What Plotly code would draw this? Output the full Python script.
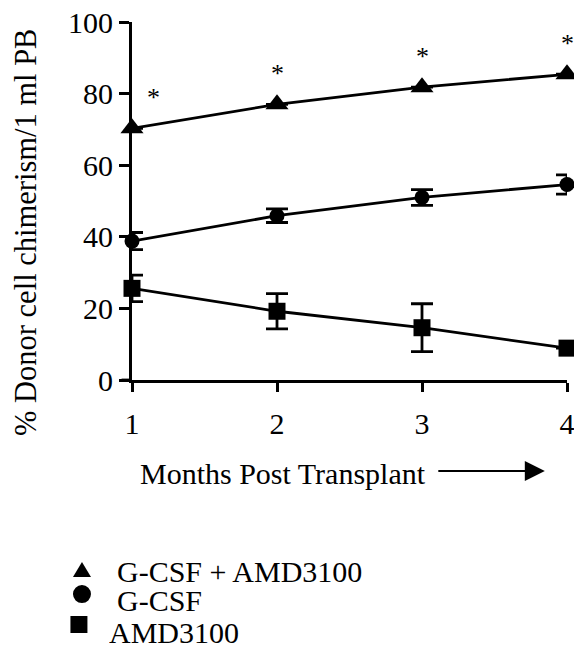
import plotly.graph_objects as go

# Months after transplant
months = [1, 2, 3, 4]

# Mean % donor chimerism in peripheral blood and SEM per group
combo_mean = [70.3, 77.0, 81.8, 85.4]
combo_err = [0.0, 0.0, 0.0, 0.0]

gcsf_mean = [38.8, 45.9, 51.0, 54.6]
gcsf_err = [2.4, 1.9, 2.2, 2.7]

amd_mean = [25.6, 19.2, 14.6, 8.9]
amd_err = [3.7, 4.9, 6.7, 0.0]

# Time points with a significant difference (asterisks)
significant = [True, True, True, True]

group_names = ["G-CSF + AMD3100", "G-CSF", "AMD3100"]

FONT = "'Liberation Serif', 'Times New Roman', 'DejaVu Serif', serif"
BLACK = "#000000"

fig = go.Figure()

series = [
    (group_names[0], combo_mean, combo_err, "triangle-up", 20),
    (group_names[1], gcsf_mean, gcsf_err, "circle", 15),
    (group_names[2], amd_mean, amd_err, "square", 17),
]

for name, mean, err, symbol, size in series:
    fig.add_trace(go.Scatter(
        x=months, y=mean,
        mode="lines+markers",
        line=dict(color=BLACK, width=2.8),
        marker=dict(symbol=symbol, size=size, color=BLACK),
        error_y=dict(type="data", array=err, visible=True,
                     color=BLACK, thickness=2.8, width=11),
        cliponaxis=False,
        showlegend=False,
        name=name,
    ))

# Significance asterisks above the combination curve
for i, (m, v, s) in enumerate(zip(months, combo_mean, significant)):
    if not s:
        continue
    xs = m + (0.15 if i == 0 else 0.0)
    fig.add_annotation(x=xs, y=v + 10.2, xref="x", yref="y", text="*",
                       showarrow=False, font=dict(family=FONT, size=26, color=BLACK),
                       yanchor="middle", yshift=-6)

# Short extension of the x axis line to the left of the y axis
fig.add_shape(type="line", xref="paper", yref="y", x0=-0.024, x1=0, y0=0, y1=0,
              line=dict(color=BLACK, width=2.8))

# Axis title with arrow
fig.add_annotation(x=0.348, y=-0.26, xref="paper", yref="paper",
                   text="Months Post Transplant", showarrow=False,
                   font=dict(family=FONT, size=30, color=BLACK),
                   xanchor="center", yanchor="middle")
fig.add_annotation(x=0.949, y=-0.254, ax=-108, ay=0,
                   xref="paper", yref="paper", axref="pixel", ayref="pixel",
                   text="", showarrow=True, arrowhead=2, arrowsize=2.0,
                   arrowwidth=2, arrowcolor=BLACK)

# Vertical axis title
fig.add_annotation(x=-0.244, y=0.413, xref="paper", yref="paper",
                   text="% Donor cell chimerism/1 ml PB", showarrow=False,
                   textangle=-90, font=dict(family=FONT, size=30.5, color=BLACK),
                   xanchor="center", yanchor="middle")

# Key below the chart: symbol shapes with labels
key_rows = [
    # (symbol x, symbol y, label x, label y) in paper units
    (-0.115, -0.531, -0.039, -0.534),
    (-0.115, -0.598, -0.039, -0.615),
    (-0.122, -0.683, -0.0575, -0.704),
]
tri, circ, sq = key_rows
fig.add_shape(type="path", xref="paper", yref="paper",
              xsizemode="pixel", ysizemode="pixel",
              xanchor=tri[0], yanchor=tri[1],
              path="M -9,-7 L 9,-7 L 0,8 Z",
              fillcolor=BLACK, line=dict(width=0))
fig.add_shape(type="circle", xref="paper", yref="paper",
              xsizemode="pixel", ysizemode="pixel",
              xanchor=circ[0], yanchor=circ[1],
              x0=-9, x1=9, y0=-9, y1=9,
              fillcolor=BLACK, line=dict(width=0))
fig.add_shape(type="rect", xref="paper", yref="paper",
              xsizemode="pixel", ysizemode="pixel",
              xanchor=sq[0], yanchor=sq[1],
              x0=-8.5, x1=8.5, y0=-8.5, y1=8.5,
              fillcolor=BLACK, line=dict(width=0))
for (sx, sy, lx, ly), label in zip(key_rows, group_names):
    fig.add_annotation(x=lx, y=ly, xref="paper", yref="paper", text=label,
                       showarrow=False, xanchor="left", yanchor="middle",
                       height=30, valign="middle",
                       font=dict(family=FONT, size=30, color=BLACK))

fig.update_layout(
    width=574, height=650,
    margin=dict(l=132, r=7, t=22, b=270, autoexpand=False),
    paper_bgcolor="white", plot_bgcolor="white",
    font=dict(family=FONT, color=BLACK),
    showlegend=False,
    xaxis=dict(range=[1, 4], tickvals=months, ticktext=[str(m) for m in months],
               showgrid=False, zeroline=False, showline=True, linecolor=BLACK,
               linewidth=2.8, ticks="outside", ticklen=9, tickwidth=2.8,
               tickcolor=BLACK, ticklabelstandoff=6, ticklabeloverflow="allow",
               tickfont=dict(family=FONT, size=30, color=BLACK)),
    yaxis=dict(range=[0, 100], tickvals=[0, 20, 40, 60, 80, 100],
               showgrid=False, zeroline=False, showline=True, linecolor=BLACK,
               linewidth=2.8, ticks="outside", ticklen=10, tickwidth=2.8,
               tickcolor=BLACK, ticklabeloverflow="allow",
               tickfont=dict(family=FONT, size=30, color=BLACK)),
)

fig.write_html("out.html")
